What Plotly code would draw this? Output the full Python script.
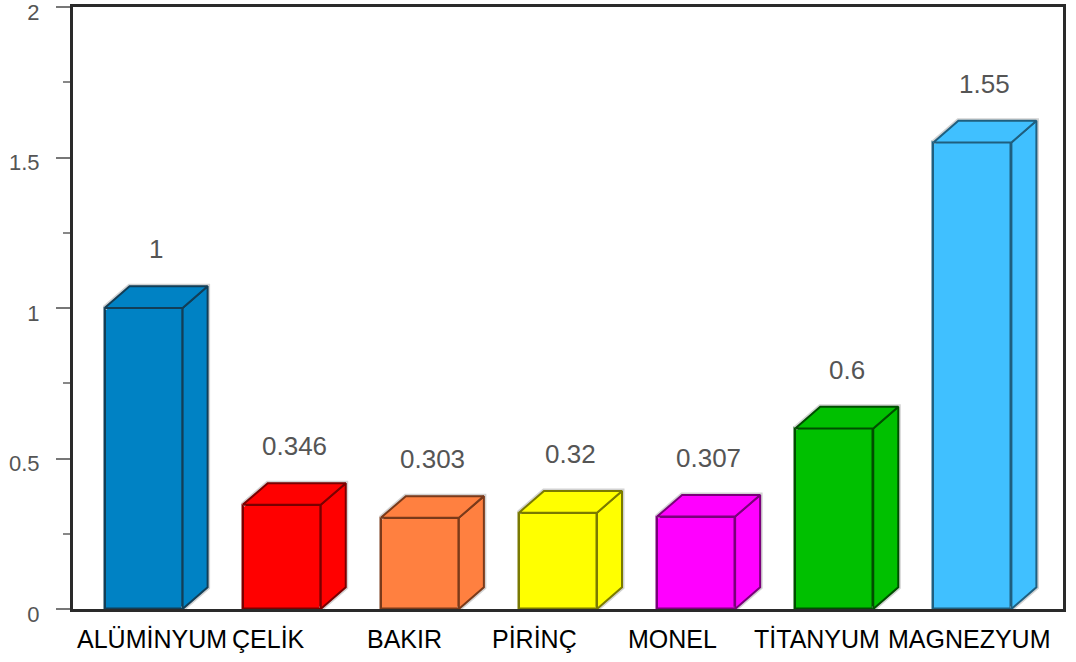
import plotly.graph_objects as go

# Relative values per material
materials = ["ALÜMİNYUM", "ÇELİK", "BAKIR", "PİRİNÇ", "MONEL", "TİTANYUM", "MAGNEZYUM"]
values = [1, 0.346, 0.303, 0.32, 0.307, 0.6, 1.55]
face_colors = ["#0082C4", "#FF0000", "#FF8040", "#FFFF00", "#FF00FF", "#00C000", "#40C0FF"]
edge_colors = ["#123E57", "#7A0000", "#7A3A1A", "#7A7A00", "#7A007A", "#004E00", "#1F5F7F"]
y_ticks = [0, 0.5, 1, 1.5, 2]
y_tick_text = ["0", "0.5", "1", "1.5", "2"]

# Horizontal nudges (px) of the category captions so long names do not collide
label_nudge = [8, -13, -15, -23, -24, -17, -3]

# Geometry of the pseudo-3D boxes (data units)
bar_w = 0.565
depth_x = 0.181
depth_y = 0.072

FONT = "Liberation Sans, Arial, sans-serif"

fig = go.Figure()

xs = list(range(len(materials)))

for i, (v, fc, ec) in enumerate(zip(values, face_colors, edge_colors)):
    x0 = i - bar_w / 2
    x1 = i + bar_w / 2
    # soft grey halo along the outer silhouette of top and side faces
    fig.add_trace(go.Scatter(
        x=[x0, x0 + depth_x, x1 + depth_x, x1 + depth_x, x1],
        y=[v, v + depth_y, v + depth_y, depth_y, 0],
        mode="lines", line=dict(color="#D2D2D2", width=5),
        hoverinfo="skip", showlegend=False,
    ))
    # side face
    fig.add_trace(go.Scatter(
        x=[x1, x1, x1 + depth_x, x1 + depth_x, x1],
        y=[0, v, v + depth_y, depth_y, 0],
        mode="lines", fill="toself", fillcolor=fc,
        line=dict(color=ec, width=2),
        hoverinfo="skip", showlegend=False,
    ))
    # top face
    fig.add_trace(go.Scatter(
        x=[x0, x0 + depth_x, x1 + depth_x, x1, x0],
        y=[v, v + depth_y, v + depth_y, v, v],
        mode="lines", fill="toself", fillcolor=fc,
        line=dict(color=ec, width=2),
        hoverinfo="skip", showlegend=False,
    ))

# front faces
fig.add_trace(go.Bar(
    x=xs, y=values, width=bar_w,
    marker=dict(color=face_colors, line=dict(color=edge_colors, width=2.5)),
    showlegend=False, hoverinfo="skip",
))

# value labels above each box
for i, v in enumerate(values):
    fig.add_annotation(
        x=i + depth_x / 2, y=v + depth_y, yshift=37,
        text=f"{v:g}", showarrow=False, yanchor="middle",
        font=dict(family=FONT, size=26, color="#555555"),
    )

# category captions under the axis
for i, name in enumerate(materials):
    fig.add_annotation(
        x=i, xshift=label_nudge[i], y=0, yshift=-30,
        text=name, showarrow=False, yanchor="middle", xanchor="center",
        font=dict(family=FONT, size=25, color="#000000"),
    )

fig.update_layout(
    width=1076, height=662,
    margin=dict(l=73, r=13, t=7, b=53),
    plot_bgcolor="white", paper_bgcolor="white",
    bargap=0,
    xaxis=dict(
        range=[-0.511, 6.656], automargin=False,
        showticklabels=False, ticks="",
        showgrid=False, zeroline=False,
        showline=True, linecolor="#2A2A2A", linewidth=3, mirror=True,
    ),
    yaxis=dict(
        range=[0, 2], automargin=False,
        tickvals=y_ticks, ticktext=y_tick_text,
        ticks="outside", ticklen=14, tickwidth=2, tickcolor="#777777",
        minor=dict(dtick=0.25, ticks="outside", ticklen=7, tickwidth=2, tickcolor="#888888", showgrid=False),
        showgrid=False, zeroline=False,
        showline=True, linecolor="#2A2A2A", linewidth=3, mirror=True,
        tickfont=dict(family=FONT, size=22, color="#555555"),
        ticklabelstandoff=12, ticklabeloverflow="allow", ticklabelshift=5,
    ),
)

fig.write_html("out.html")
